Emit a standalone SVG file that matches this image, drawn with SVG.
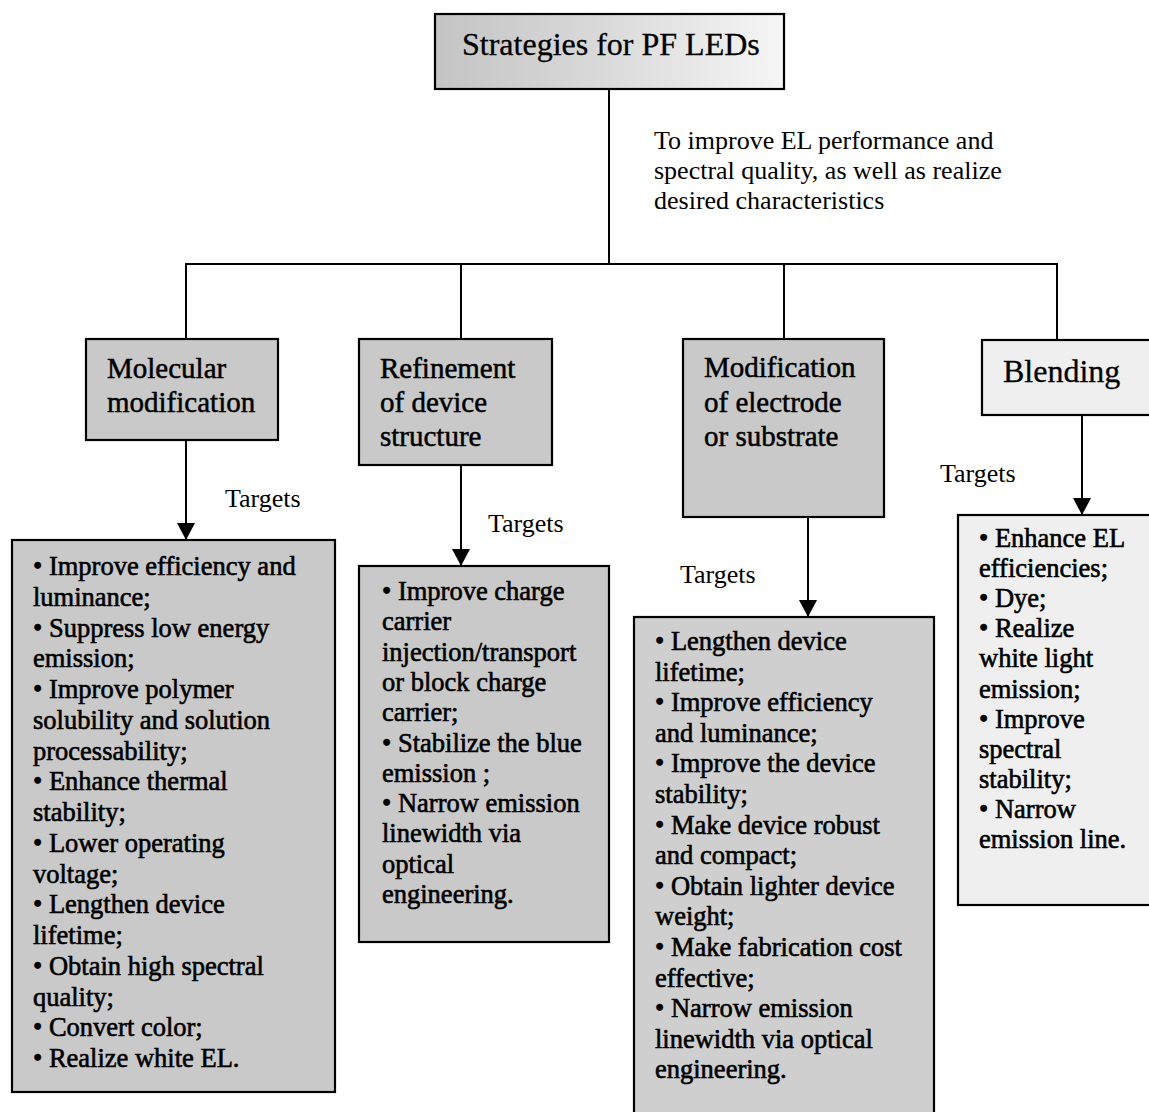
<svg xmlns="http://www.w3.org/2000/svg" width="1149" height="1112" viewBox="0 0 1149 1112">
<style>
.box{stroke:#000;stroke-width:2.2}
.grey{fill:#c9c9c9}
.grey2{fill:#cfcfcf}
.light{fill:#efefef}
.hdr{font-family:"Liberation Serif","Times New Roman",serif;font-size:29px;fill:#000;stroke:#000;stroke-width:0.5}
.lst{font-family:"Liberation Serif","Times New Roman",serif;font-size:26.5px;fill:#000;stroke:#000;stroke-width:0.6}
.lbl{font-family:"Liberation Serif","Times New Roman",serif;font-size:26px;fill:#000}
.ttl{font-family:"Liberation Serif","Times New Roman",serif;font-size:32px;fill:#000;stroke:#000;stroke-width:0.3}
.conn{stroke:#000;stroke-width:2;fill:none}
</style>
<defs>
<linearGradient id="tg" x1="0" y1="0" x2="1" y2="0">
<stop offset="0" stop-color="#c4c4c4"/>
<stop offset="0.45" stop-color="#d8d8d8"/>
<stop offset="1" stop-color="#f6f6f6"/>
</linearGradient>
<marker id="ah" markerUnits="userSpaceOnUse" markerWidth="18" markerHeight="18" refX="17" refY="9" orient="auto">
<path d="M0,0 L17,9 L0,18 Z" fill="#000"/>
</marker>
</defs>
<rect width="1149" height="1112" fill="#fff"/>

<g id="connectors">
<line class="conn" x1="609" y1="89" x2="609" y2="264"/>
<line class="conn" x1="185" y1="264" x2="1058" y2="264"/>
<line class="conn" x1="186" y1="264" x2="186" y2="339"/>
<line class="conn" x1="461" y1="264" x2="461" y2="339"/>
<line class="conn" x1="784" y1="264" x2="784" y2="339"/>
<line class="conn" x1="1057" y1="264" x2="1057" y2="340"/>
<line class="conn" x1="186" y1="440" x2="186" y2="540" marker-end="url(#ah)"/>
<line class="conn" x1="461" y1="465" x2="461" y2="566" marker-end="url(#ah)"/>
<line class="conn" x1="808" y1="517" x2="808" y2="617" marker-end="url(#ah)"/>
<line class="conn" x1="1082" y1="415" x2="1082" y2="515" marker-end="url(#ah)"/>
<text class="lbl" x="654" y="149">To improve EL performance and</text>
<text class="lbl" x="654" y="179">spectral quality, as well as realize</text>
<text class="lbl" x="654" y="209">desired characteristics</text>
<text class="lbl" x="225" y="507">Targets</text>
<text class="lbl" x="488" y="532">Targets</text>
<text class="lbl" x="680" y="583">Targets</text>
<text class="lbl" x="940" y="482">Targets</text>
</g>

<g id="root">
<rect class="box" x="435" y="14" width="349" height="75" fill="url(#tg)"/>
<text class="ttl" x="462" y="55">Strategies for PF LEDs</text>
</g>

<g id="molecular">
<rect class="box grey" x="86" y="339" width="192" height="101"/>
<text class="hdr" x="107" y="378">Molecular</text>
<text class="hdr" x="107" y="412">modification</text>
</g>

<g id="refinement">
<rect class="box grey" x="359" y="339" width="193" height="126"/>
<text class="hdr" x="380" y="378">Refinement</text>
<text class="hdr" x="380" y="412">of device</text>
<text class="hdr" x="380" y="446">structure</text>
</g>

<g id="modification">
<rect class="box grey" x="683" y="339" width="201" height="178"/>
<text class="hdr" x="704" y="377">Modification</text>
<text class="hdr" x="704" y="412">of electrode</text>
<text class="hdr" x="704" y="446">or substrate</text>
</g>

<g id="blending">
<rect class="box light" x="982" y="340" width="180" height="75"/>
<text class="ttl" x="1003" y="382">Blending</text>
</g>

<g id="molecular-targets">
<rect class="box grey" x="12" y="540" width="323" height="552"/>
<text class="lst">
<tspan x="33" y="575">• Improve efficiency and</tspan>
<tspan x="33" y="605.75">luminance;</tspan>
<tspan x="33" y="636.5">• Suppress low energy</tspan>
<tspan x="33" y="667.25">emission;</tspan>
<tspan x="33" y="698">• Improve polymer</tspan>
<tspan x="33" y="728.75">solubility and solution</tspan>
<tspan x="33" y="759.5">processability;</tspan>
<tspan x="33" y="790.25">• Enhance thermal</tspan>
<tspan x="33" y="821">stability;</tspan>
<tspan x="33" y="851.75">• Lower operating</tspan>
<tspan x="33" y="882.5">voltage;</tspan>
<tspan x="33" y="913.25">• Lengthen device</tspan>
<tspan x="33" y="944">lifetime;</tspan>
<tspan x="33" y="974.75">• Obtain high spectral</tspan>
<tspan x="33" y="1005.5">quality;</tspan>
<tspan x="33" y="1036.25">• Convert color;</tspan>
<tspan x="33" y="1067">• Realize white EL.</tspan>
</text>
</g>

<g id="refinement-targets">
<rect class="box grey" x="359" y="566" width="250" height="376"/>
<text class="lst">
<tspan x="382" y="600">• Improve charge</tspan>
<tspan x="382" y="630.3">carrier</tspan>
<tspan x="382" y="660.6">injection/transport</tspan>
<tspan x="382" y="690.9">or block charge</tspan>
<tspan x="382" y="721.2">carrier;</tspan>
<tspan x="382" y="751.5">• Stabilize the blue</tspan>
<tspan x="382" y="781.8">emission ;</tspan>
<tspan x="382" y="812.1">• Narrow emission</tspan>
<tspan x="382" y="842.4">linewidth via</tspan>
<tspan x="382" y="872.7">optical</tspan>
<tspan x="382" y="903">engineering.</tspan>
</text>
</g>

<g id="modification-targets">
<rect class="box grey2" x="634" y="617" width="300" height="510"/>
<text class="lst">
<tspan x="655" y="650">• Lengthen device</tspan>
<tspan x="655" y="680.6">lifetime;</tspan>
<tspan x="655" y="711.2">• Improve efficiency</tspan>
<tspan x="655" y="741.8">and luminance;</tspan>
<tspan x="655" y="772.4">• Improve the device</tspan>
<tspan x="655" y="803">stability;</tspan>
<tspan x="655" y="833.6">• Make device robust</tspan>
<tspan x="655" y="864.2">and compact;</tspan>
<tspan x="655" y="894.8">• Obtain lighter device</tspan>
<tspan x="655" y="925.4">weight;</tspan>
<tspan x="655" y="956">• Make fabrication cost</tspan>
<tspan x="655" y="986.6">effective;</tspan>
<tspan x="655" y="1017.2">• Narrow emission</tspan>
<tspan x="655" y="1047.8">linewidth via optical</tspan>
<tspan x="655" y="1078.4">engineering.</tspan>
</text>
</g>

<g id="blending-targets">
<rect class="box light" x="958" y="515" width="204" height="390"/>
<text class="lst">
<tspan x="979" y="547">• Enhance EL</tspan>
<tspan x="979" y="577.1">efficiencies;</tspan>
<tspan x="979" y="607.2">• Dye;</tspan>
<tspan x="979" y="637.3">• Realize</tspan>
<tspan x="979" y="667.4">white light</tspan>
<tspan x="979" y="697.5">emission;</tspan>
<tspan x="979" y="727.6">• Improve</tspan>
<tspan x="979" y="757.7">spectral</tspan>
<tspan x="979" y="787.8">stability;</tspan>
<tspan x="979" y="817.9">• Narrow</tspan>
<tspan x="979" y="848">emission line.</tspan>
</text>
</g>
</svg>
